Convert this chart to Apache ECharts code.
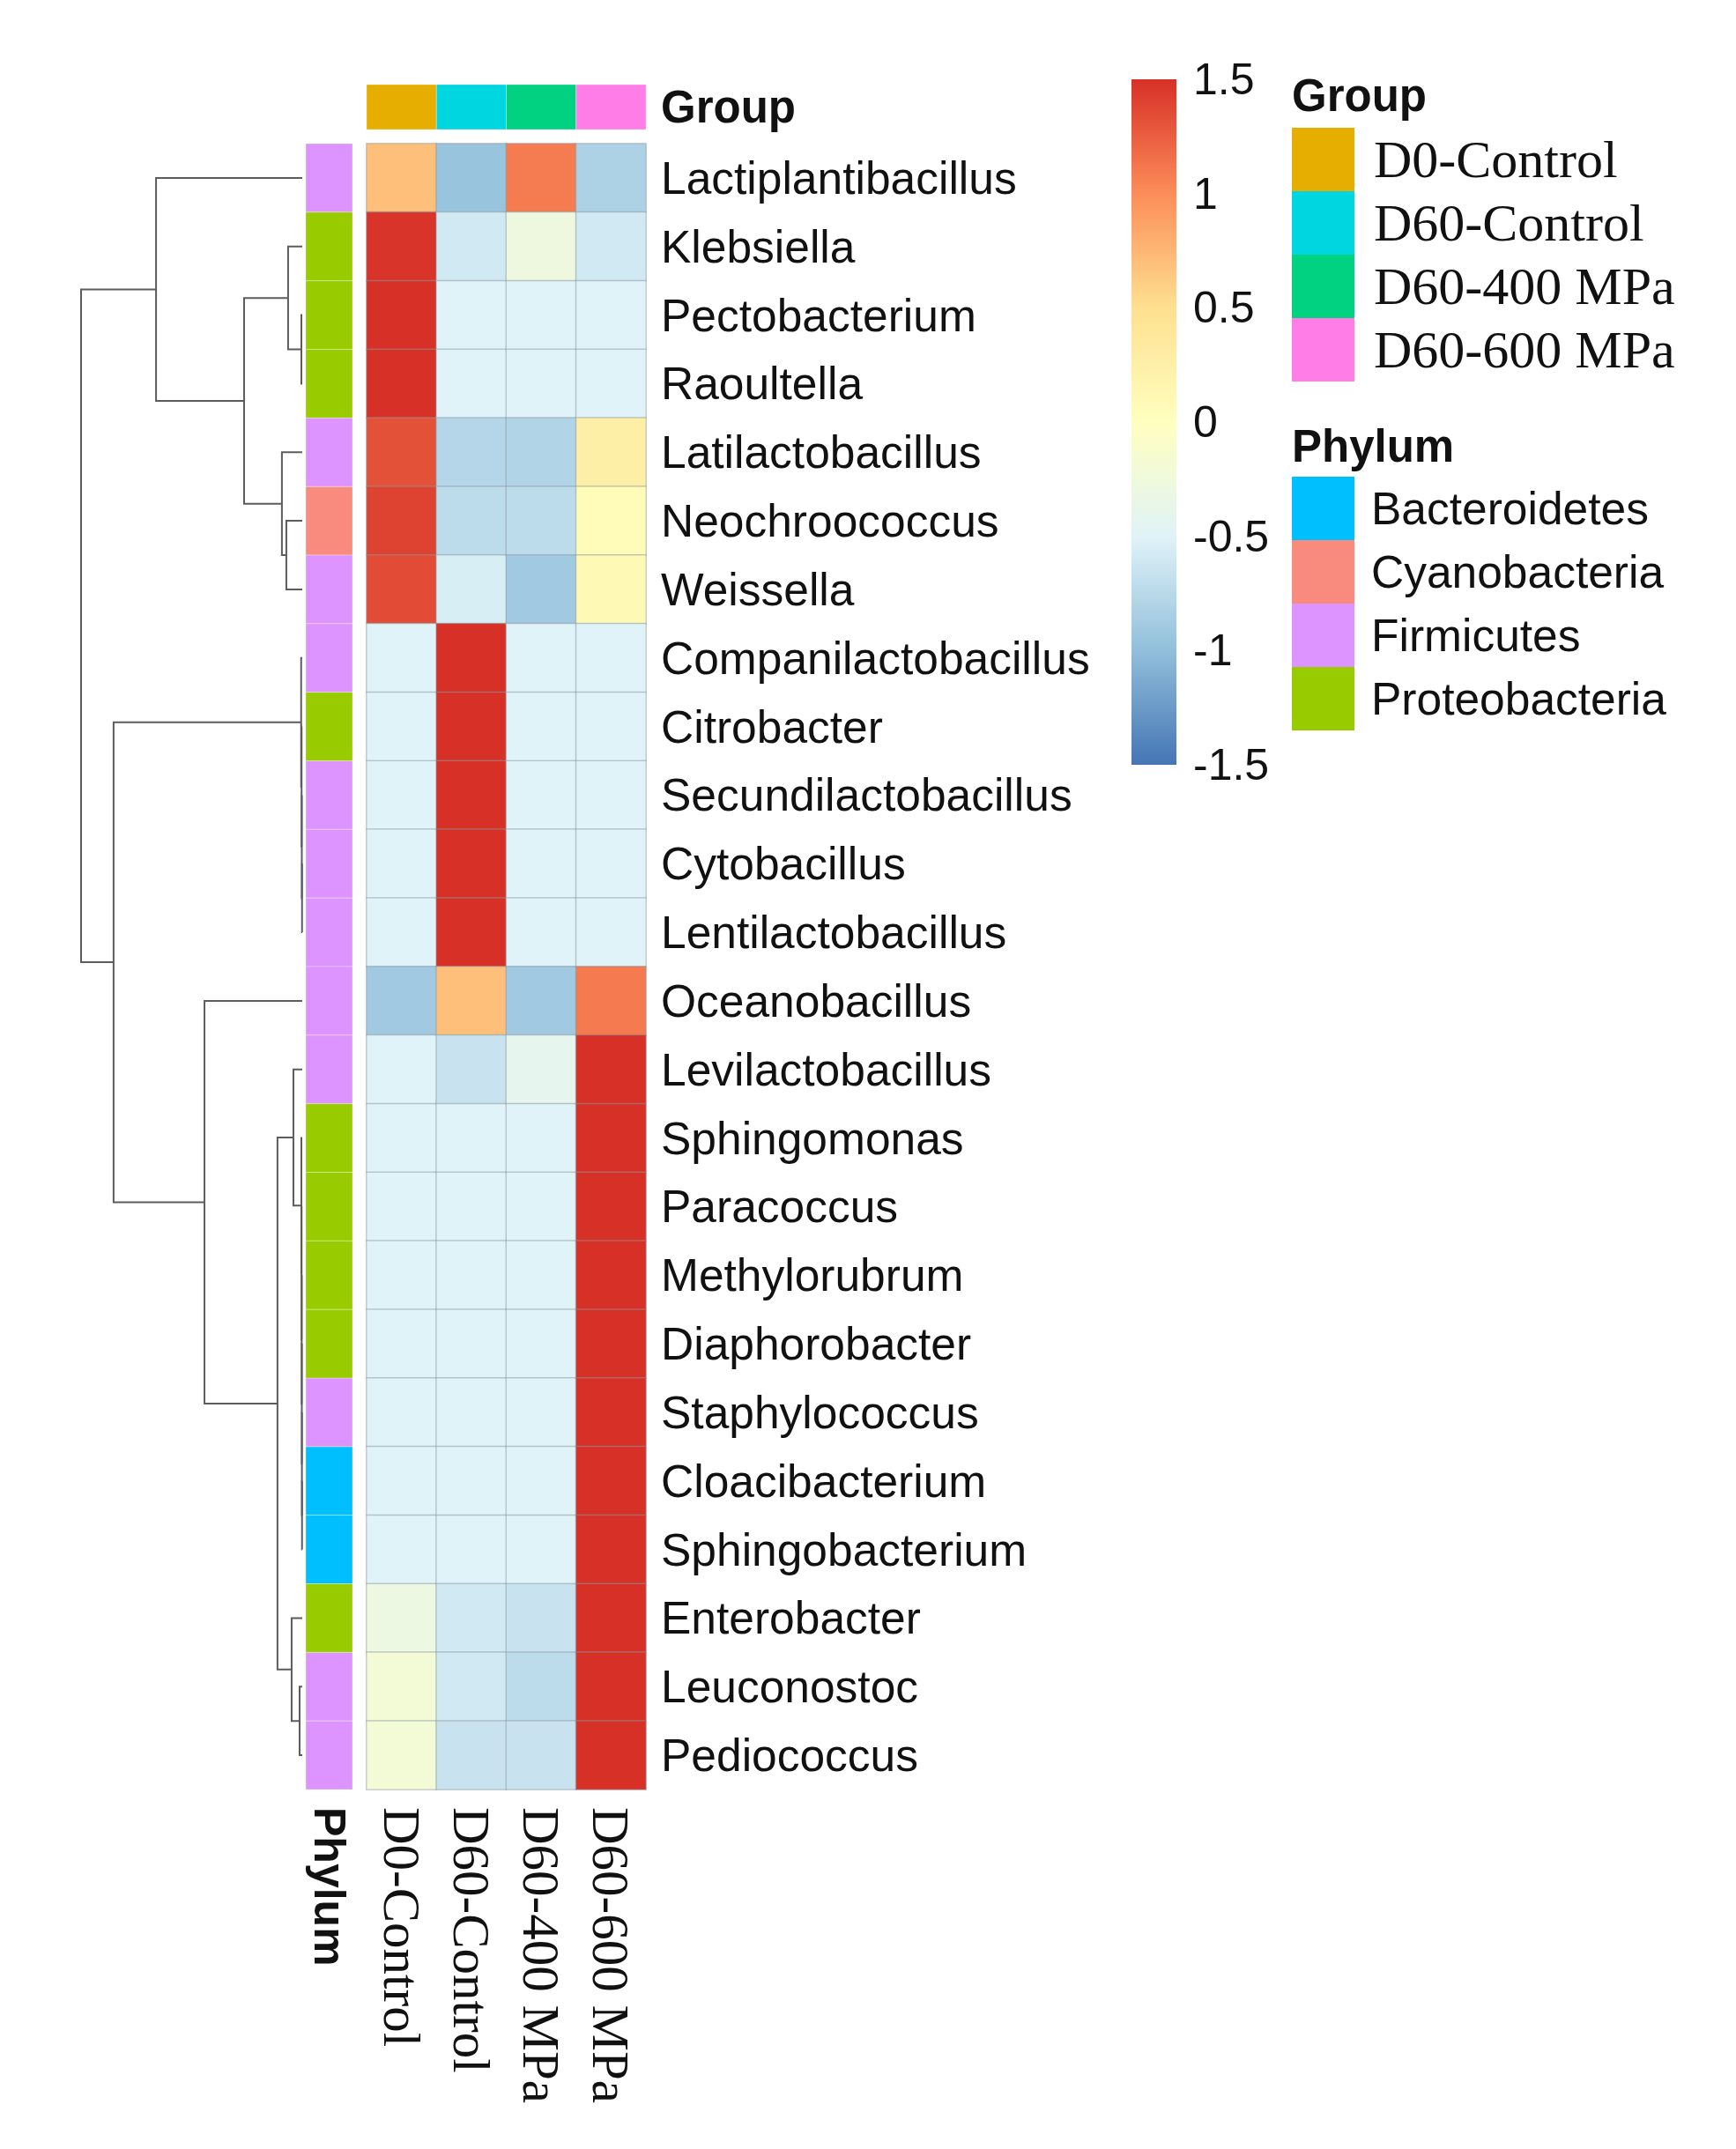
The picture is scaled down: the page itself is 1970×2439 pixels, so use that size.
<!DOCTYPE html>
<html><head><meta charset="utf-8">
<script src="https://cdn.jsdelivr.net/npm/echarts@6/dist/echarts.min.js"></script>
<style>html,body{margin:0;padding:0;background:#fff}#c{width:1970px;height:2439px}</style>
</head><body><div id="c"></div>
<script>
// ---------- data ----------
const groups = ['D0-Control', 'D60-Control', 'D60-400 MPa', 'D60-600 MPa'];
const groupColors = ['#E6AE00', '#00D6E0', '#00D282', '#FF7DE6'];
const genera = ['Lactiplantibacillus', 'Klebsiella', 'Pectobacterium', 'Raoultella', 'Latilactobacillus',
  'Neochroococcus', 'Weissella', 'Companilactobacillus', 'Citrobacter', 'Secundilactobacillus',
  'Cytobacillus', 'Lentilactobacillus', 'Oceanobacillus', 'Levilactobacillus', 'Sphingomonas',
  'Paracoccus', 'Methylorubrum', 'Diaphorobacter', 'Staphylococcus', 'Cloacibacterium',
  'Sphingobacterium', 'Enterobacter', 'Leuconostoc', 'Pediococcus'];
const phyla = ['Bacteroidetes', 'Cyanobacteria', 'Firmicutes', 'Proteobacteria'];
const phylumColors = ['#00BFFF', '#F88A7E', '#DD94FF', '#99CC00'];
const genusPhylum = ['Firmicutes', 'Proteobacteria', 'Proteobacteria', 'Proteobacteria', 'Firmicutes',
  'Cyanobacteria', 'Firmicutes', 'Firmicutes', 'Proteobacteria', 'Firmicutes',
  'Firmicutes', 'Firmicutes', 'Firmicutes', 'Firmicutes', 'Proteobacteria',
  'Proteobacteria', 'Proteobacteria', 'Proteobacteria', 'Firmicutes', 'Bacteroidetes',
  'Bacteroidetes', 'Proteobacteria', 'Firmicutes', 'Firmicutes'];
// row z-scores per group (columns)
const zD0   = [0.70, 1.48, 1.50, 1.50, 1.32, 1.40, 1.35, -0.50, -0.50, -0.50, -0.50, -0.50, -0.90, -0.50, -0.50, -0.50, -0.50, -0.50, -0.50, -0.50, -0.50, -0.30, -0.20, -0.20];
const zD60C = [-0.95, -0.60, -0.50, -0.50, -0.78, -0.72, -0.55, 1.50, 1.50, 1.50, 1.50, 1.50, 0.70, -0.65, -0.50, -0.50, -0.50, -0.50, -0.50, -0.50, -0.50, -0.60, -0.60, -0.65];
const zD400 = [1.09, -0.28, -0.50, -0.50, -0.80, -0.72, -0.90, -0.50, -0.50, -0.50, -0.50, -0.50, -0.90, -0.40, -0.50, -0.50, -0.50, -0.50, -0.50, -0.50, -0.50, -0.65, -0.72, -0.65];
const zD600 = [-0.82, -0.60, -0.50, -0.50, 0.26, 0.05, 0.10, -0.50, -0.50, -0.50, -0.50, -0.50, 1.10, 1.50, 1.50, 1.50, 1.50, 1.50, 1.50, 1.50, 1.50, 1.50, 1.50, 1.50];
const scaleTicks = [-1.5, -1, -0.5, 0, 0.5, 1, 1.5];
const palette = ['#4575B4', '#91BFDB', '#E0F3F8', '#FFFFBF', '#FEE090', '#FC8D59', '#D73027'];
// row dendrogram (hclust style: negative = leaf (1-based row), positive = earlier merge step), height
const merges = [
  [-3, -4, 0.04], [-11, -12, 0.01], [-10, 2, 0.02], [-9, 3, 0.03], [-8, 4, 0.05],
  [-20, -21, 0.01], [-19, 6, 0.015], [-18, 7, 0.02], [-17, 8, 0.025], [-16, 9, 0.03],
  [-15, 10, 0.04], [-23, -24, 0.12], [-6, -7, 0.72], [-2, 1, 0.64], [-22, 12, 0.48],
  [-14, 11, 0.40], [-5, 13, 0.92], [16, 15, 1.12], [14, 17, 2.63], [-13, 18, 4.42],
  [-1, 19, 6.61], [5, 20, 8.53], [21, 22, 10.0]
];

// ---------- derived ----------
const zCols = [zD0, zD60C, zD400, zD600];
const heatData = [];
zCols.forEach((col, ci) => col.forEach((v, ri) => heatData.push([ci, ri, v])));
const nodePos = [];
function nodeInfo(id) { return id < 0 ? { h: 0, p: -id - 1 } : { h: merges[id - 1][2], p: nodePos[id - 1] }; }
const dendroData = merges.map((m, i) => {
  const a = nodeInfo(m[0]), b = nodeInfo(m[1]);
  nodePos[i] = (a.p + b.p) / 2;
  return [m[2], a.h, a.p, b.h, b.p];
});

const SANS = 'Liberation Sans', SERIF = 'Liberation Serif', INK = '#111';

function cellRender(params, api) {
  const c = api.coord([api.value(0), api.value(1)]);
  const s = api.size([1, 1]);
  return { type: 'rect', shape: { x: c[0] - s[0] / 2, y: c[1] - s[1] / 2, width: s[0], height: s[1] },
    style: { fill: api.visual('color'), stroke: 'rgba(255,255,255,0.3)', lineWidth: 1 } };
}

const series = [{
  type: 'heatmap', xAxisIndex: 0, yAxisIndex: 0, data: heatData,
  itemStyle: { borderColor: 'rgba(140,150,160,0.45)', borderWidth: 1.5 },
  emphasis: { disabled: true }, progressive: 0, animation: false
}];
groups.forEach((g, i) => series.push({
  type: 'custom', name: g, xAxisIndex: 1, yAxisIndex: 1, itemStyle: { color: groupColors[i] },
  data: [[i, 0]], renderItem: cellRender, animation: false, silent: true
}));
phyla.forEach((p, i) => series.push({
  type: 'custom', name: p, xAxisIndex: 2, yAxisIndex: 2, itemStyle: { color: phylumColors[i] },
  data: genusPhylum.map((q, r) => q === p ? [0, r] : null).filter(d => d),
  renderItem: cellRender, animation: false, silent: true
}));
series.push({
  type: 'custom', xAxisIndex: 3, yAxisIndex: 3, data: dendroData, clip: false,
  dimensions: ['h', 'ha', 'pa', 'hb', 'pb'], encode: { x: [0, 1, 3], y: [2, 4] },
  renderItem(params, api) {
    const h = api.value(0), ha = api.value(1), pa = api.value(2), hb = api.value(3), pb = api.value(4);
    return { type: 'polyline', shape: { points: [api.coord([ha, pa]), api.coord([h, pa]), api.coord([h, pb]), api.coord([hb, pb])] },
      style: { stroke: '#5c5c5c', lineWidth: 2, fill: null } };
  }, animation: false, silent: true
});
series.push({
  type: 'custom', xAxisIndex: 4, yAxisIndex: 4, data: [[scaleTicks[0], scaleTicks[scaleTicks.length - 1]]],
  encode: { y: [0, 1] },
  renderItem(params, api) {
    const p1 = api.coord([0, api.value(1)]), p2 = api.coord([1, api.value(0)]);
    const stops = palette.slice().reverse().map((c, i, a) => ({ offset: i / (a.length - 1), color: c }));
    return { type: 'rect', shape: { x: p1[0], y: p1[1], width: p2[0] - p1[0], height: p2[1] - p1[1] },
      style: { fill: new echarts.graphic.LinearGradient(0, 0, 0, 1, stops) } };
  }, animation: false, silent: true
});

const hidden = { axisLine: { show: false }, axisTick: { show: false }, splitLine: { show: false } };
const option = {
  backgroundColor: '#fff',
  animation: false,
  title: [
    { text: 'Group', left: 1466, top: 83, padding: 0, textStyle: { fontFamily: SANS, fontSize: 51, fontWeight: 'bold', color: INK } },
    { text: 'Phylum', left: 1466, top: 481, padding: 0, textStyle: { fontFamily: SANS, fontSize: 51, fontWeight: 'bold', color: INK } }
  ],
  legend: [
    { data: groups, orient: 'vertical', left: 1466, top: 145, itemWidth: 71, itemHeight: 72, itemGap: 0, icon: 'rect',
      selectedMode: false, padding: 0, textStyle: { fontFamily: SERIF, fontSize: 60, lineHeight: 62, color: INK, padding: [0, 0, 0, 17] } },
    { data: phyla, orient: 'vertical', left: 1466, top: 541, itemWidth: 71, itemHeight: 72, itemGap: 0, icon: 'rect',
      selectedMode: false, padding: 0, textStyle: { fontFamily: SANS, fontSize: 51.5, lineHeight: 60, color: INK, padding: [0, 0, 0, 14] } }
  ],
  visualMap: [{ type: 'continuous', show: false, min: -1.5, max: 1.5, seriesIndex: 0, dimension: 2, inRange: { color: palette } }],
  grid: [
    { left: 416, top: 163, width: 317, height: 1868 },
    { left: 416, top: 96, width: 317, height: 51 },
    { left: 347, top: 163, width: 53, height: 1868 },
    { left: 92, top: 163, width: 251, height: 1868 },
    { left: 1284, top: 90, width: 51, height: 778 }
  ],
  xAxis: [
    Object.assign({ type: 'category', gridIndex: 0, data: groups, position: 'bottom',
      axisLabel: { rotate: -90, margin: 20, fontFamily: SERIF, fontSize: 59, color: INK } }, hidden),
    { type: 'category', gridIndex: 1, data: groups, show: false },
    Object.assign({ type: 'category', gridIndex: 2, data: ['Phylum'], position: 'bottom',
      axisLabel: { rotate: -90, margin: 20, fontFamily: SANS, fontSize: 50, fontWeight: 'bold', color: INK } }, hidden),
    { type: 'value', gridIndex: 3, min: 0, max: 10, inverse: true, show: false },
    { type: 'value', gridIndex: 4, min: 0, max: 1, show: false }
  ],
  yAxis: [
    Object.assign({ type: 'category', gridIndex: 0, data: genera, inverse: true, position: 'right',
      axisLabel: { margin: 17, fontFamily: SANS, fontSize: 51.5, color: INK } }, hidden),
    Object.assign({ type: 'category', gridIndex: 1, data: ['Group'], position: 'right',
      axisLabel: { margin: 17, fontFamily: SANS, fontSize: 51, fontWeight: 'bold', color: INK } }, hidden),
    { type: 'category', gridIndex: 2, data: genera, inverse: true, show: false },
    { type: 'value', gridIndex: 3, min: -0.5, max: genera.length - 0.5, inverse: true, show: false },
    Object.assign({ type: 'value', gridIndex: 4, min: scaleTicks[0], max: scaleTicks[scaleTicks.length - 1], interval: 0.5, position: 'right',
      axisLabel: { margin: 19, fontFamily: SANS, fontSize: 50, color: INK } }, hidden)
  ],
  series: series
};
const chart = echarts.init(document.getElementById('c'), null, { renderer: 'svg' });
chart.setOption(option);
</script>
</body></html>
